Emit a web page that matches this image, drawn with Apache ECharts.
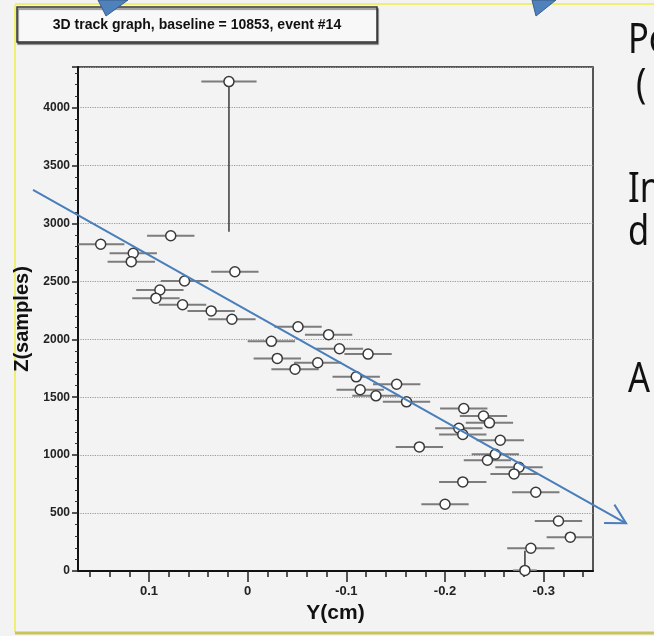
<!DOCTYPE html>
<html><head><meta charset="utf-8">
<script src="https://cdn.jsdelivr.net/npm/echarts@6/dist/echarts.min.js"></script>
<style>html,body{margin:0;padding:0;background:#f3f3f3;overflow:hidden}#c{width:654px;height:636px}</style>
</head><body><div id="c"></div>
<script>
// ---- data ----
const yCm = [0.019, 0.078, 0.149, 0.116, 0.118, 0.013, 0.064, 0.089, 0.093, 0.066, 0.037, 0.016,
  -0.051, -0.082, -0.024, -0.093, -0.122, -0.030, -0.071, -0.048, -0.110, -0.151, -0.114, -0.130,
  -0.161, -0.219, -0.239, -0.245, -0.214, -0.218, -0.256, -0.174, -0.251, -0.243, -0.275, -0.270,
  -0.218, -0.292, -0.200, -0.315, -0.327, -0.287, -0.281];
const zSamples = [4224, 2894, 2820, 2742, 2670, 2583, 2503, 2425, 2355, 2298, 2245, 2173,
  2108, 2040, 1982, 1918, 1872, 1835, 1797, 1742, 1676, 1612, 1564, 1512,
  1460, 1403, 1337, 1279, 1232, 1178, 1129, 1071, 1008, 956, 895, 838,
  769, 680, 576, 432, 292, 196, 5];
const yErr = [0.028, 0.024, 0.024, 0.024, 0.024, 0.024, 0.024, 0.024, 0.024, 0.024, 0.024, 0.024,
  0.024, 0.024, 0.024, 0.024, 0.024, 0.024, 0.024, 0.024, 0.024, 0.024, 0.024, 0.024,
  0.024, 0.024, 0.024, 0.024, 0.024, 0.024, 0.024, 0.024, 0.024, 0.024, 0.024, 0.024,
  0.024, 0.024, 0.024, 0.024, 0.024, 0.024, 0.012];
const zErrLow = [1295, 0, 0, 0, 0, 0, 0, 0, 0, 0, 0, 0, 0, 0, 0, 0, 0, 0, 0, 0, 0, 0, 0, 0,
  0, 0, 0, 0, 0, 0, 0, 0, 0, 0, 0, 0, 0, 0, 40, 40, 0, 0, 0];
const zErrHigh = [0, 0, 0, 0, 0, 0, 0, 0, 0, 0, 0, 0, 0, 0, 0, 0, 0, 0, 0, 0, 0, 0, 0, 0,
  0, 0, 0, 0, 0, 0, 0, 0, 0, 0, 0, 0, 0, 0, 40, 40, 0, 0, 170];
const xLabelValues = [0.1, 0, -0.1, -0.2, -0.3];
const xMinorTickValues = [0.16, 0.14, 0.12, 0.08, 0.06, 0.04, 0.02, -0.02, -0.04, -0.06, -0.08,
  -0.12, -0.14, -0.16, -0.18, -0.22, -0.24, -0.26, -0.28, -0.32, -0.34];
const titleText = '3D track graph, baseline = 10853, event #14';
const xTitle = 'Y(cm)';
const yTitle = 'Z(samples)';
const arrowLine = [0.2176, 3289, -0.3835, 412];
const slideLines = ['Po', '(', 'In', 'd', 'A'];

// ---- chart ----
const chart = echarts.init(document.getElementById('c'));
const FONT = 'Liberation Sans, Arial, sans-serif';
const scatterData = yCm.map((y, i) => [y, zSamples[i]]);
const errData = yCm.map((y, i) => [y, zSamples[i], yErr[i], zErrLow[i], zErrHigh[i]]);
const slideText = (t, x, y) => ({ type: 'text', x: x, y: y, scaleX: 0.82,
  style: { text: t, font: '42px Noto Sans', fill: '#111', verticalAlign: 'middle' } });

chart.setOption({
  animation: false,
  backgroundColor: '#f3f3f3',
  grid: { left: 78, top: 67, width: 515, height: 504, show: true, borderColor: '#222', borderWidth: 1.5, backgroundColor: 'transparent' },
  xAxis: [{
    type: 'value', inverse: true, min: -0.35, max: 0.172,
    axisLine: { show: true, onZero: false, lineStyle: { color: '#111', width: 2 } },
    axisTick: { show: true, inside: false, length: 11, customValues: xLabelValues, lineStyle: { color: '#222', width: 1.5 } },
    axisLabel: { customValues: xLabelValues, fontFamily: FONT, fontWeight: 'bold', fontSize: 13, color: '#222', margin: 14 },
    splitLine: { show: false },
    name: xTitle, nameLocation: 'middle', nameGap: 29,
    nameTextStyle: { fontFamily: FONT, fontWeight: 'bold', fontSize: 21, color: '#111' }
  }, {
    type: 'value', inverse: true, min: -0.35, max: 0.172, position: 'bottom',
    axisLine: { show: false },
    axisTick: { show: true, inside: false, length: 6, customValues: xMinorTickValues, lineStyle: { color: '#222', width: 1.5 } },
    axisLabel: { show: false },
    splitLine: { show: false }
  }],
  yAxis: {
    type: 'value', min: 0, max: 4350, interval: 500,
    axisLine: { show: true, onZero: false, lineStyle: { color: '#111', width: 2 } },
    axisTick: { show: true, inside: false, length: 6, lineStyle: { color: '#222', width: 1.5 } },
    minorTick: { show: true, splitNumber: 5, length: 3, lineStyle: { color: '#333', width: 1 } },
    axisLabel: { showMaxLabel: false, formatter: v => String(v), fontFamily: FONT, fontWeight: 'bold', fontSize: 12, color: '#222', margin: 8 },
    splitLine: { show: true, lineStyle: { color: '#9a9a9a', type: 'dotted', width: 1.2 } },
    name: yTitle, nameLocation: 'middle', nameGap: 43, nameRotate: 90,
    nameTextStyle: { fontFamily: FONT, fontWeight: 'bold', fontSize: 20, color: '#111' }
  },
  series: [{
    type: 'custom', clip: true, z: 2,
    encode: { x: 0, y: 1 },
    data: errData,
    renderItem: function (params, api) {
      const x = api.value(0), z = api.value(1), ex = api.value(2), lo = api.value(3), hi = api.value(4);
      const a = api.coord([x + ex, z]), b = api.coord([x - ex, z]);
      const children = [{ type: 'line', shape: { x1: a[0], y1: a[1], x2: b[0], y2: b[1] }, style: { stroke: '#7c7c7c', lineWidth: 2 } }];
      if (lo > 0 || hi > 0) {
        const c = api.coord([x, z - lo]), d = api.coord([x, z + hi]);
        children.push({ type: 'line', shape: { x1: c[0], y1: c[1], x2: d[0], y2: d[1] }, style: { stroke: '#3a3a3a', lineWidth: 1.5 } });
      }
      return { type: 'group', children: children };
    }
  }, {
    type: 'scatter', z: 3, symbol: 'circle', symbolSize: 10,
    itemStyle: { color: '#ffffff', borderColor: '#3a3a3a', borderWidth: 1.5, opacity: 1 },
    data: scatterData
  }, {
    type: 'custom', clip: false, z: 10, silent: true,
    data: [arrowLine],
    renderItem: function (params, api) {
      const p = api.coord([api.value(0), api.value(1)]);
      const q = api.coord([api.value(2), api.value(3)]);
      const ang = Math.atan2(q[1] - p[1], q[0] - p[0]) + Math.PI;
      const L = 22, s = 0.5;
      const h1 = [q[0] + L * Math.cos(ang + s), q[1] + L * Math.sin(ang + s)];
      const h2 = [q[0] + L * Math.cos(ang - s), q[1] + L * Math.sin(ang - s)];
      const st = { stroke: '#4a7ebb', lineWidth: 2, fill: null };
      return { type: 'group', children: [
        { type: 'line', shape: { x1: p[0], y1: p[1], x2: q[0], y2: q[1] }, style: st },
        { type: 'polyline', shape: { points: [h1, q, h2] }, style: st }
      ] };
    }
  }],
  graphic: [
    { type: 'line', shape: { x1: 15, y1: 5, x2: 15, y2: 632 }, style: { stroke: '#f1ef72', lineWidth: 2 } },
    { type: 'line', shape: { x1: 15, y1: 4, x2: 654, y2: 4 }, style: { stroke: '#f1ef72', lineWidth: 2 } },
    { type: 'line', shape: { x1: 15, y1: 633, x2: 654, y2: 633 }, style: { stroke: '#c9c35c', lineWidth: 3 } },
    { type: 'rect', shape: { x: 17, y: 7, width: 360, height: 35 }, style: { fill: '#f8f8f8', stroke: '#333', lineWidth: 1.5, shadowColor: 'rgba(0,0,0,0.5)', shadowOffsetX: 1, shadowOffsetY: 2, shadowBlur: 1 } },
    { type: 'text', x: 197, y: 25, style: { text: titleText, font: 'bold 14px ' + FONT, fill: '#111', align: 'center', verticalAlign: 'middle' } },
    { type: 'polygon', shape: { points: [[98, 0], [128, 0], [106, 16]] }, style: { fill: '#4f81bd', stroke: '#385d8a', lineWidth: 1 } },
    { type: 'polygon', shape: { points: [[532, 0], [556, 0], [536, 16]] }, style: { fill: '#4f81bd', stroke: '#385d8a', lineWidth: 1 } },
    slideText(slideLines[0], 628, 41),
    slideText(slideLines[1], 636, 86),
    slideText(slideLines[2], 628, 190),
    slideText(slideLines[3], 628, 233),
    slideText(slideLines[4], 628, 380)
  ]
});
</script></body></html>
